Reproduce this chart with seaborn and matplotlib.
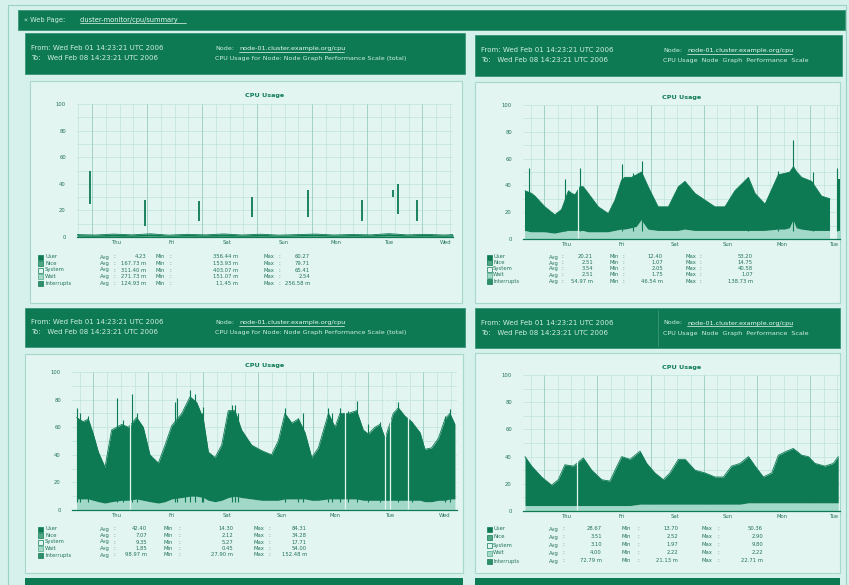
import numpy as np
import pandas as pd
import matplotlib
matplotlib.use("Agg")
import matplotlib.pyplot as plt
from matplotlib.patches import Rectangle
from matplotlib.lines import Line2D
from matplotlib.ticker import MultipleLocator
import seaborn as sns

# ---------------------------------------------------------
# DATA (x in hours, y in % CPU)
# ---------------------------------------------------------
# panel 1 - nearly idle host, flat baseline plus a few needles
p1_hours = [0, 8, 16, 24, 32, 40, 48, 56, 64, 72, 80, 88, 96, 104, 112, 120, 128, 136, 144, 152, 160, 164]
p1_top = [1.8, 1.5, 2.2, 1.6, 2.4, 1.4, 2.0, 1.6, 2.3, 1.5, 2.1, 1.4, 1.8, 2.2, 1.5, 1.9, 1.6, 2.5, 1.6, 2.0, 1.5, 1.8]
p1_base = [0.6, 0.5, 0.6, 0.5, 0.7, 0.5, 0.6, 0.5, 0.6, 0.5, 0.6, 0.5, 0.6, 0.7, 0.5, 0.6, 0.5, 0.7, 0.5, 0.6, 0.5, 0.6]
p1_spike_hours = [5.8, 29.8, 53.0, 76.2, 100.9, 124.1, 137.9, 140.1, 148.1]
p1_spike_lo = [25, 8, 12, 15, 15, 12, 30, 17, 12]
p1_spike_hi = [50, 28, 27, 30, 35, 28, 35, 40, 28]

# panel 2
p2_hours = [0.9, 3.9, 5.4, 9.9, 14.4, 17.4, 20.5, 22.0, 23.5, 25.7, 27.2, 29.5, 34.0, 38.5, 41.5,
            44.5, 46.0, 49.0, 51.3, 53.5, 56.5, 61.0, 65.6, 70.1, 73.1, 77.6, 82.1, 86.6, 91.1, 95.6,
            101.7, 104.7, 109.2, 115.2, 118.2, 120.4, 122.0, 123.5, 125.7, 130.2, 134.7, 138.5, 139.5, 141.5, 143.0]
p2_top = [36, 34, 32, 24, 18, 22, 36, 34, 33, 39, 39, 34, 24, 19, 29,
          44, 46, 46, 48, 50, 39, 24, 24, 39, 43, 34, 29, 24, 24, 36,
          46, 34, 26, 48, 49, 50, 54, 50, 46, 43, 32, 30, np.nan, 45, 45]
p2_base = [6, 5, 5, 5, 4, 5, 6, 6, 6, 6, 6, 5, 5, 5, 6,
           7, 7, 8, 9, 14, 7, 6, 6, 6, 7, 6, 6, 6, 6, 6,
           6, 6, 6, 7, 7, 8, 14, 8, 7, 6, 6, 6, np.nan, 6, 6]
p2_spike_hours = [2.7, 18.9, 25.7, 44.5, 49.8, 53.5, 101.7, 115.2, 122.0, 131.0, 141.5]
p2_spike_hi = [53, 45, 53, 56, 49, 58, 46, 51, 74, 50, 53]
p2_gaps = [24.6]

# panel 3
p3_hours = [2.0, 4.9, 7.1, 9.3, 11.5, 14.4, 17.3, 21.7, 24.6, 28.2, 31.1, 34.0, 37.7, 40.6, 43.5,
            47.9, 51.5, 54.4, 57.3, 59.5, 62.4, 65.3, 68.2, 71.1, 74.0, 78.4, 82.8, 87.1, 90.0, 92.9,
            95.9, 98.8, 101.7, 104.6, 107.5, 111.9, 114.8, 116.9, 120.6, 124.2, 127.1, 129.3, 132.2, 134.4, 136.6,
            140.2, 142.4, 145.3, 148.2, 151.9, 154.0, 156.9, 159.9, 162.8, 164.9, 167.1]
p3_top = [67, 64, 66, 55, 42, 31, 58, 62, 60, 67, 60, 40, 34, 47, 61,
          70, 82, 78, 66, 42, 38, 47, 72, 72, 58, 47, 43, 40, 50, 70,
          63, 66, 56, 38, 45, 70, 60, 70, 70, 72, 58, 55, 60, 62, 52,
          70, 74, 68, 64, 56, 44, 45, 52, 66, 70, 62]
p3_base = [8, 8, 8, 7, 6, 5, 6, 7, 7, 8, 7, 6, 5, 6, 8,
           9, 10, 10, 9, 7, 6, 7, 9, 10, 9, 8, 7, 7, 7, 8,
           8, 8, 8, 7, 7, 8, 8, 8, 8, 8, 7, 7, 7, 7, 7,
           7, 7, 7, 7, 7, 6, 6, 7, 7, 8, 8]
p3_spike_hours = [2.0, 3.5, 7.1, 19.5, 22.4, 26.0, 28.2, 44.9, 45.7, 49.3, 51.5, 53.7, 56.6, 57.3, 69.7, 71.1,
                  72.6, 92.9, 98.8, 100.9, 111.9, 113.3, 116.9, 120.6, 124.2, 129.3, 134.4, 142.4, 148.2, 162.8, 164.9]
p3_spike_hi = [74, 70, 68, 81, 65, 84, 70, 78, 81, 75, 87, 84, 70, 75, 76, 76,
               70, 74, 67, 70, 74, 70, 74, 72, 79, 62, 64, 78, 64, 68, 73]
p3_gaps = [25.3, 119.1, 136.6, 138.8, 146.8]

# panel 4
p4_hours = [0.9, 3.9, 8.4, 12.9, 15.9, 18.9, 22.7, 27.2, 31.0, 35.5, 39.2, 41.5, 44.5, 48.3, 52.8,
            55.8, 59.5, 63.3, 66.3, 70.1, 73.1, 77.6, 82.1, 86.6, 90.4, 94.1, 97.9, 101.7, 104.7, 108.4,
            112.2, 115.2, 118.9, 121.9, 125.7, 128.7, 131.7, 136.2, 140.0, 142.2]
p4_top = [40, 33, 25, 19, 23, 34, 33, 39, 30, 23, 22, 30, 40, 38, 44,
          35, 28, 23, 28, 38, 38, 30, 28, 25, 25, 33, 35, 40, 33, 25,
          28, 41, 44, 46, 41, 40, 35, 33, 35, 40]
p4_base = [4, 4, 4, 4, 4, 4, 4, 4, 4, 4, 4, 4, 4, 4, 5,
           5, 5, 5, 5, 5, 5, 5, 5, 5, 5, 5, 5, 6, 6, 6,
           6, 6, 6, 6, 6, 6, 6, 6, 6, 6]
p4_gaps = [24.2]

# x axis: day boundaries and day labels per panel
days_a = ["Thu", "Fri", "Sat", "Sun", "Mon", "Tue", "Wed"]
p1_majors = [6.6, 30.6, 54.6, 78.6, 102.6, 126.6, 150.6]
p1_labels_at = [17.4, 41.5, 65.6, 90.2, 113.0, 136.5, 160.7]
p24_majors = [9.6, 33.6, 57.6, 81.6, 105.6, 129.6]
p24_labels_at = [19.9, 44.3, 68.6, 92.4, 116.8, 140.7]
p3_majors = [9.3, 33.2, 57.2, 81.1, 105.1, 129.0, 153.0]
p3_labels_at = [19.5, 43.5, 67.5, 91.5, 114.8, 138.8, 162.8]

# legend tables: name, avg, min, max
series_names = ["User", "Nice", "System", "Wait", "Interrupts"]
p1_stats = [("4.23", "356.44 m", "60.27"), ("167.73 m", "153.93 m", "79.71"), ("311.40 m", "403.07 m", "65.41"),
            ("271.73 m", "151.07 m", "2.54"), ("124.93 m", "11.45 m", "256.58 m")]
p2_stats = [("20.21", "12.40", "53.20"), ("2.51", "1.07", "14.75"), ("3.54", "2.05", "40.58"),
            ("2.51", "1.75", "1.07"), ("54.97 m", "46.54 m", "138.73 m")]
p3_stats = [("42.40", "14.30", "84.31"), ("7.07", "2.12", "34.28"), ("9.35", "5.27", "17.71"),
            ("1.85", "0.45", "54.00"), ("98.97 m", "27.90 m", "152.48 m")]
p4_stats = [("28.67", "13.70", "50.36"), ("3.51", "2.52", "2.90"), ("3.10", "1.97", "9.80"),
            ("4.00", "2.22", "2.22"), ("72.79 m", "21.13 m", "22.71 m")]

# header lines
from_line = "From: Wed Feb 01 14:23:21 UTC 2006"
to_line = "To:   Wed Feb 08 14:23:21 UTC 2006"
node_link = "node-01.cluster.example.org/cpu"
desc_wide = "CPU Usage for Node: Node Graph Performance Scale (total)"
desc_narrow = "CPU Usage  Node  Graph  Performance  Scale"

# ---------------------------------------------------------
# STYLE
# ---------------------------------------------------------
BG = "#d6f0eb"
BOX = "#e2f5f1"
DARK = "#0e7a53"
MID = "#4fa883"
LIGHT = "#a2d8c8"
GRID = "#bfe3db"
DAYLINE = "#9ccfc2"
TXT = "#24735a"
HDR_TXT = "#cdeee4"

sns.set_theme(style="white")
plt.rcParams["font.family"] = ["DejaVu Sans"]

W, H = 849, 585
fig = plt.figure(figsize=(W / 100, H / 100), dpi=100)
fig.patch.set_facecolor(BG)


def box(x0, y0, x1, y1, fc, ec="none", lw=0.0, z=-2):
    fig.add_artist(Rectangle((x0 / W, 1 - y1 / H), (x1 - x0) / W, (y1 - y0) / H,
                             transform=fig.transFigure, fc=fc, ec=ec, lw=lw, zorder=z))


def txt(x, y, s, size=3.8, color=TXT, ha="left", **kw):
    fig.text(x / W, 1 - y / H, s, fontsize=size, color=color, ha=ha, va="center", zorder=5, **kw)


def hline(x0, x1, y, color, lw=0.6):
    fig.add_artist(Line2D([x0 / W, x1 / W], [1 - y / H, 1 - y / H], transform=fig.transFigure,
                          color=color, lw=lw, zorder=5))


def header(x0, y0, x1, y1, right_x, desc, link_len, divider=False):
    box(x0, y0, x1, y1, DARK, ec="#3a9676", lw=0.6)
    ym = (y0 + y1) / 2
    txt(x0 + 6, ym - 5, from_line, size=5.0, color=HDR_TXT)
    txt(x0 + 6, ym + 5, to_line, size=5.0, color=HDR_TXT)
    txt(right_x, ym - 5, "Node:", size=4.6, color=HDR_TXT)
    txt(right_x + 24, ym - 5, node_link, size=4.6, color="#e8fbf5")
    hline(right_x + 24, right_x + 24 + link_len, ym - 2, "#e8fbf5", 0.5)
    txt(right_x, ym + 5, desc, size=4.6, color=HDR_TXT)
    if divider:
        fig.add_artist(Line2D([(right_x - 5) / W] * 2, [1 - (y0 + 2) / H, 1 - (y1 - 2) / H],
                              transform=fig.transFigure, color="#3a9676", lw=0.6, zorder=5))


def chart(px, span, hours, top, base, majors, labels_at, title_y,
          spike_h=(), spike_lo=None, spike_hi=(), gaps=(), spike_lw=0.8):
    x0, y0, x1, y1 = px
    ax = fig.add_axes([x0 / W, 1 - y1 / H, (x1 - x0) / W, (y1 - y0) / H])
    ax.set_facecolor(BOX)
    ax.set_axisbelow(True)
    ax.set_xlim(0, span)
    ax.set_ylim(0, 100)

    df = pd.DataFrame({"hour": hours, "top": top, "base": base})
    df["seg"] = df["top"].isna().cumsum()
    ax.fill_between(df["hour"], 0, df["base"], color=LIGHT, lw=0, zorder=2)
    ax.fill_between(df["hour"], df["base"], df["top"], color=DARK, lw=0, zorder=3)
    sns.lineplot(data=df.dropna(), x="hour", y="top", units="seg", estimator=None,
                 color=DARK, lw=0.6, ax=ax, zorder=4, legend=False)

    if len(spike_h):
        lo = spike_lo if spike_lo is not None else [6] * len(spike_h)
        ax.vlines(spike_h, lo, spike_hi, color=DARK, lw=spike_lw, zorder=4)
    if len(gaps):
        ax.vlines(gaps, 0.8, 96, color=BOX, lw=0.9, zorder=5)

    # grid: 6h minor verticals, day lines, 10% horizontals
    ax.xaxis.set_minor_locator(MultipleLocator(6, offset=majors[0] % 6))
    ax.yaxis.set_minor_locator(MultipleLocator(10))
    ax.xaxis.grid(True, which="minor", color=GRID, lw=0.5)
    ax.yaxis.grid(True, which="both", color=GRID, lw=0.5)
    ax.vlines(majors, 0, 100, color=DAYLINE, lw=0.6, zorder=1)

    ax.set_xticks(labels_at, days_a[:len(labels_at)])
    ax.set_yticks([0, 20, 40, 60, 80, 100], ["0", "20", "40", "60", "80", "100"])
    ax.tick_params(axis="both", which="both", length=0, labelsize=3.8, colors=TXT)
    ax.tick_params(axis="y", pad=8)
    ax.tick_params(axis="x", pad=2)
    ax.set_xlabel("")
    ax.set_ylabel("")
    sns.despine(ax=ax, left=True, top=True, right=True)
    ax.spines["bottom"].set_color(DARK)
    ax.spines["bottom"].set_linewidth(0.9)
    txt((x0 + x1) / 2, title_y, "CPU Usage", size=4.6, color=DARK, ha="center", fontweight="bold")
    return ax


SWATCH = [(DARK, DARK), (MID, DARK), (BOX, DARK), (LIGHT, MID), ("#2f8f68", DARK)]


def legend(x0, rows_y, offs, stats):
    for (fc, ec), name, (a, mn, mx), y in zip(SWATCH, series_names, stats, rows_y):
        box(x0, y - 2.5, x0 + 5, y + 2.5, fc, ec=ec, lw=0.5, z=1)
        txt(x0 + offs[0], y, name)
        txt(x0 + offs[1], y, "Avg")
        txt(x0 + offs[2], y, ":")
        txt(x0 + offs[3], y, a, ha="right")
        txt(x0 + offs[4], y, "Min")
        txt(x0 + offs[5], y, ":")
        txt(x0 + offs[6], y, mn, ha="right")
        txt(x0 + offs[7], y, "Max")
        txt(x0 + offs[8], y, ":")
        txt(x0 + offs[9], y, mx, ha="right")


# ---------------------------------------------------------
# PAGE FRAME
# ---------------------------------------------------------
box(8, 5, 846, 592, "none", ec="#9ad2c5", lw=0.8, z=-3)
box(18, 10, 845, 30, DARK, ec="#3a9676", lw=0.6)
txt(24, 20, "\u00ab Web Page:", size=4.8, color=HDR_TXT)
txt(80, 20, "cluster-monitor/cpu/summary", size=4.8, color="#e8fbf5")
hline(80, 186, 23, "#e8fbf5", 0.5)

# headers
header(25, 33, 465, 74, 215, desc_wide, 105)
header(475, 35, 842, 76, 663, desc_narrow, 105)
header(25, 308, 465, 347, 215, desc_wide, 105)
header(475, 308, 840, 348, 663, desc_narrow, 105, divider=True)

# chart boxes
box(30, 81, 462, 303, BOX, ec="#a6d8cb", lw=0.8)
box(475, 82, 840, 303, BOX, ec="#a6d8cb", lw=0.8)
box(25, 354, 463, 573, BOX, ec="#a6d8cb", lw=0.8)
box(475, 353, 840, 573, BOX, ec="#a6d8cb", lw=0.8)

# bottom strips (next row of headers)
box(25, 578, 463, 590, DARK)
box(475, 578, 840, 590, DARK)

# ---------------------------------------------------------
# CHARTS
# ---------------------------------------------------------
chart((77, 104, 453, 237), 164, p1_hours, p1_top, p1_base, p1_majors, p1_labels_at, 96,
      spike_h=p1_spike_hours, spike_lo=p1_spike_lo, spike_hi=p1_spike_hi, spike_lw=1.3)
chart((523, 105, 840, 239), 143, p2_hours, p2_top, p2_base, p24_majors, p24_labels_at, 97,
      spike_h=p2_spike_hours, spike_hi=p2_spike_hi, gaps=p2_gaps)
chart((72, 372, 457, 510), 168, p3_hours, p3_top, p3_base, p3_majors, p3_labels_at, 366,
      spike_h=p3_spike_hours, spike_hi=p3_spike_hi, gaps=p3_gaps)
chart((523, 375, 840, 511), 143, p4_hours, p4_top, p4_base, p24_majors, p24_labels_at, 368,
      gaps=p4_gaps)

legend(38, [257, 263.5, 270, 276.5, 283], [7, 62, 75, 108, 118, 131, 200, 226, 240, 272], p1_stats)
legend(487, [257, 263, 269, 275, 281], [6, 62, 74, 106, 122, 135, 176, 198, 212, 266], p2_stats)
legend(38, [529, 535.5, 542, 548.5, 555], [7, 62, 75, 109, 125, 140, 195, 215, 230, 269], p3_stats)
legend(487, [529, 537, 545, 553, 561], [6, 62, 75, 115, 135, 150, 191, 215, 230, 276], p4_stats)

fig.savefig("out.png", dpi=100, facecolor=fig.get_facecolor())
